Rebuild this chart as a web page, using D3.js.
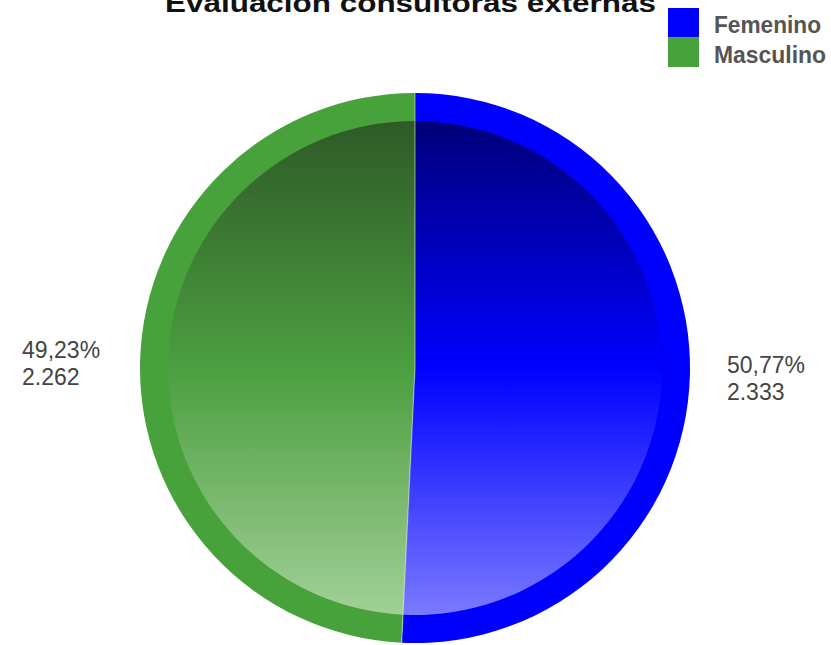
<!DOCTYPE html>
<html>
<head>
<meta charset="utf-8">
<script src="https://cdn.jsdelivr.net/npm/d3@7"></script>
<style>
  body { margin: 0; background: #fff; }
  svg { display: block; }
</style>
</head>
<body>
<div id="chart"></div>
<script>
const titleText = 'Evaluación consultoras externas';
const categories = ['Femenino', 'Masculino'];
const values = [2333, 2262];
const colors = ['#0000ff', '#47a23c'];
// gradient stops for the inner disc: dark top, base middle, light bottom
const gradTop = ['#00007a', '#2e5a27'];
const gradMid = ['#0000ff', '#4c9e40'];
const gradBot = ['#7a7aff', '#a1d096'];

const W = 831, H = 645;
const cx = 415, cy = 368;
const rOuter = 275, rInner = 247, rLabel = 312;

const svg = d3.select('#chart').append('svg')
  .attr('width', W).attr('height', H);

const loc = d3.formatLocale({ decimal: ',', thousands: '.', grouping: [3], currency: ['', ''] });
const fmtPct = loc.format('.2%');
const fmtNum = loc.format(',d');
const total = d3.sum(values);

const pie = d3.pie().sort(null).value(d => d);
const arcs = pie(values);

// gradients are in the group's user space (centred on the pie)
const defs = svg.append('defs');
categories.forEach((c, i) => {
  const lg = defs.append('linearGradient')
    .attr('id', 'grad' + i)
    .attr('gradientUnits', 'userSpaceOnUse')
    .attr('x1', 0).attr('x2', 0)
    .attr('y1', -rInner).attr('y2', rInner);
  lg.append('stop').attr('offset', '0%').attr('stop-color', gradTop[i]);
  lg.append('stop').attr('offset', '50%').attr('stop-color', gradMid[i]);
  lg.append('stop').attr('offset', '100%').attr('stop-color', gradBot[i]);
});

const outerArc = d3.arc().innerRadius(0).outerRadius(rOuter);
const innerArc = d3.arc().innerRadius(0).outerRadius(rInner);
const labelArc = d3.arc().innerRadius(rLabel).outerRadius(rLabel);

const g = svg.append('g').attr('transform', `translate(${cx},${cy})`);

g.selectAll('path.outer')
  .data(arcs)
  .enter().append('path')
  .attr('class', 'outer')
  .attr('d', outerArc)
  .attr('fill', (d, i) => colors[i]);

g.selectAll('path.inner')
  .data(arcs)
  .enter().append('path')
  .attr('class', 'inner')
  .attr('d', innerArc)
  .attr('fill', (d, i) => `url(#grad${i})`);

// thin light separators between slices
g.selectAll('line.sep')
  .data(arcs)
  .enter().append('line')
  .attr('class', 'sep')
  .attr('x1', 0).attr('y1', 0)
  .attr('x2', d => rOuter * Math.sin(d.startAngle))
  .attr('y2', d => -rOuter * Math.cos(d.startAngle))
  .attr('stroke', '#ffffff')
  .attr('stroke-opacity', 0.45)
  .attr('stroke-width', 1.2);

// slice labels
arcs.forEach((d, i) => {
  const [lx, ly] = labelArc.centroid(d);
  const right = lx >= 0;
  const t = g.append('text')
    .attr('font-family', 'Liberation Sans, Arial, sans-serif')
    .attr('font-size', 23)
    .attr('fill', '#444');
  t.append('tspan').attr('x', 0).attr('dy', 0).text(fmtPct(values[i] / total));
  t.append('tspan').attr('x', 0).attr('dy', 27).text(fmtNum(values[i]));
  const bb = t.node().getBBox();
  const tx = right ? lx : lx - bb.width - 3;
  const ty = ly - (bb.y + bb.height / 2) + 3;
  t.attr('transform', `translate(${tx},${ty})`);
});

// title (partly above the top edge, as in the original)
svg.append('text')
  .attr('x', 165).attr('y', 12)
  .attr('font-family', 'Liberation Sans, Arial, sans-serif')
  .attr('font-weight', 'bold')
  .attr('font-size', 26)
  .attr('fill', '#111')
  .attr('textLength', 491)
  .attr('lengthAdjust', 'spacingAndGlyphs')
  .text(titleText);

// legend
const legend = svg.append('g').attr('transform', 'translate(668,8)');
const legendWidths = [107, 112];
categories.forEach((c, i) => {
  legend.append('rect')
    .attr('x', 0).attr('y', i * 29.5)
    .attr('width', 31).attr('height', 29.5)
    .attr('fill', colors[i]);
  legend.append('text')
    .attr('x', 46).attr('y', 25 + i * 30)
    .attr('font-family', 'Liberation Sans, Arial, sans-serif')
    .attr('font-weight', 'bold')
    .attr('font-size', 24)
    .attr('fill', '#555')
    .attr('textLength', legendWidths[i])
    .attr('lengthAdjust', 'spacingAndGlyphs')
    .text(c);
});
</script>
</body>
</html>
